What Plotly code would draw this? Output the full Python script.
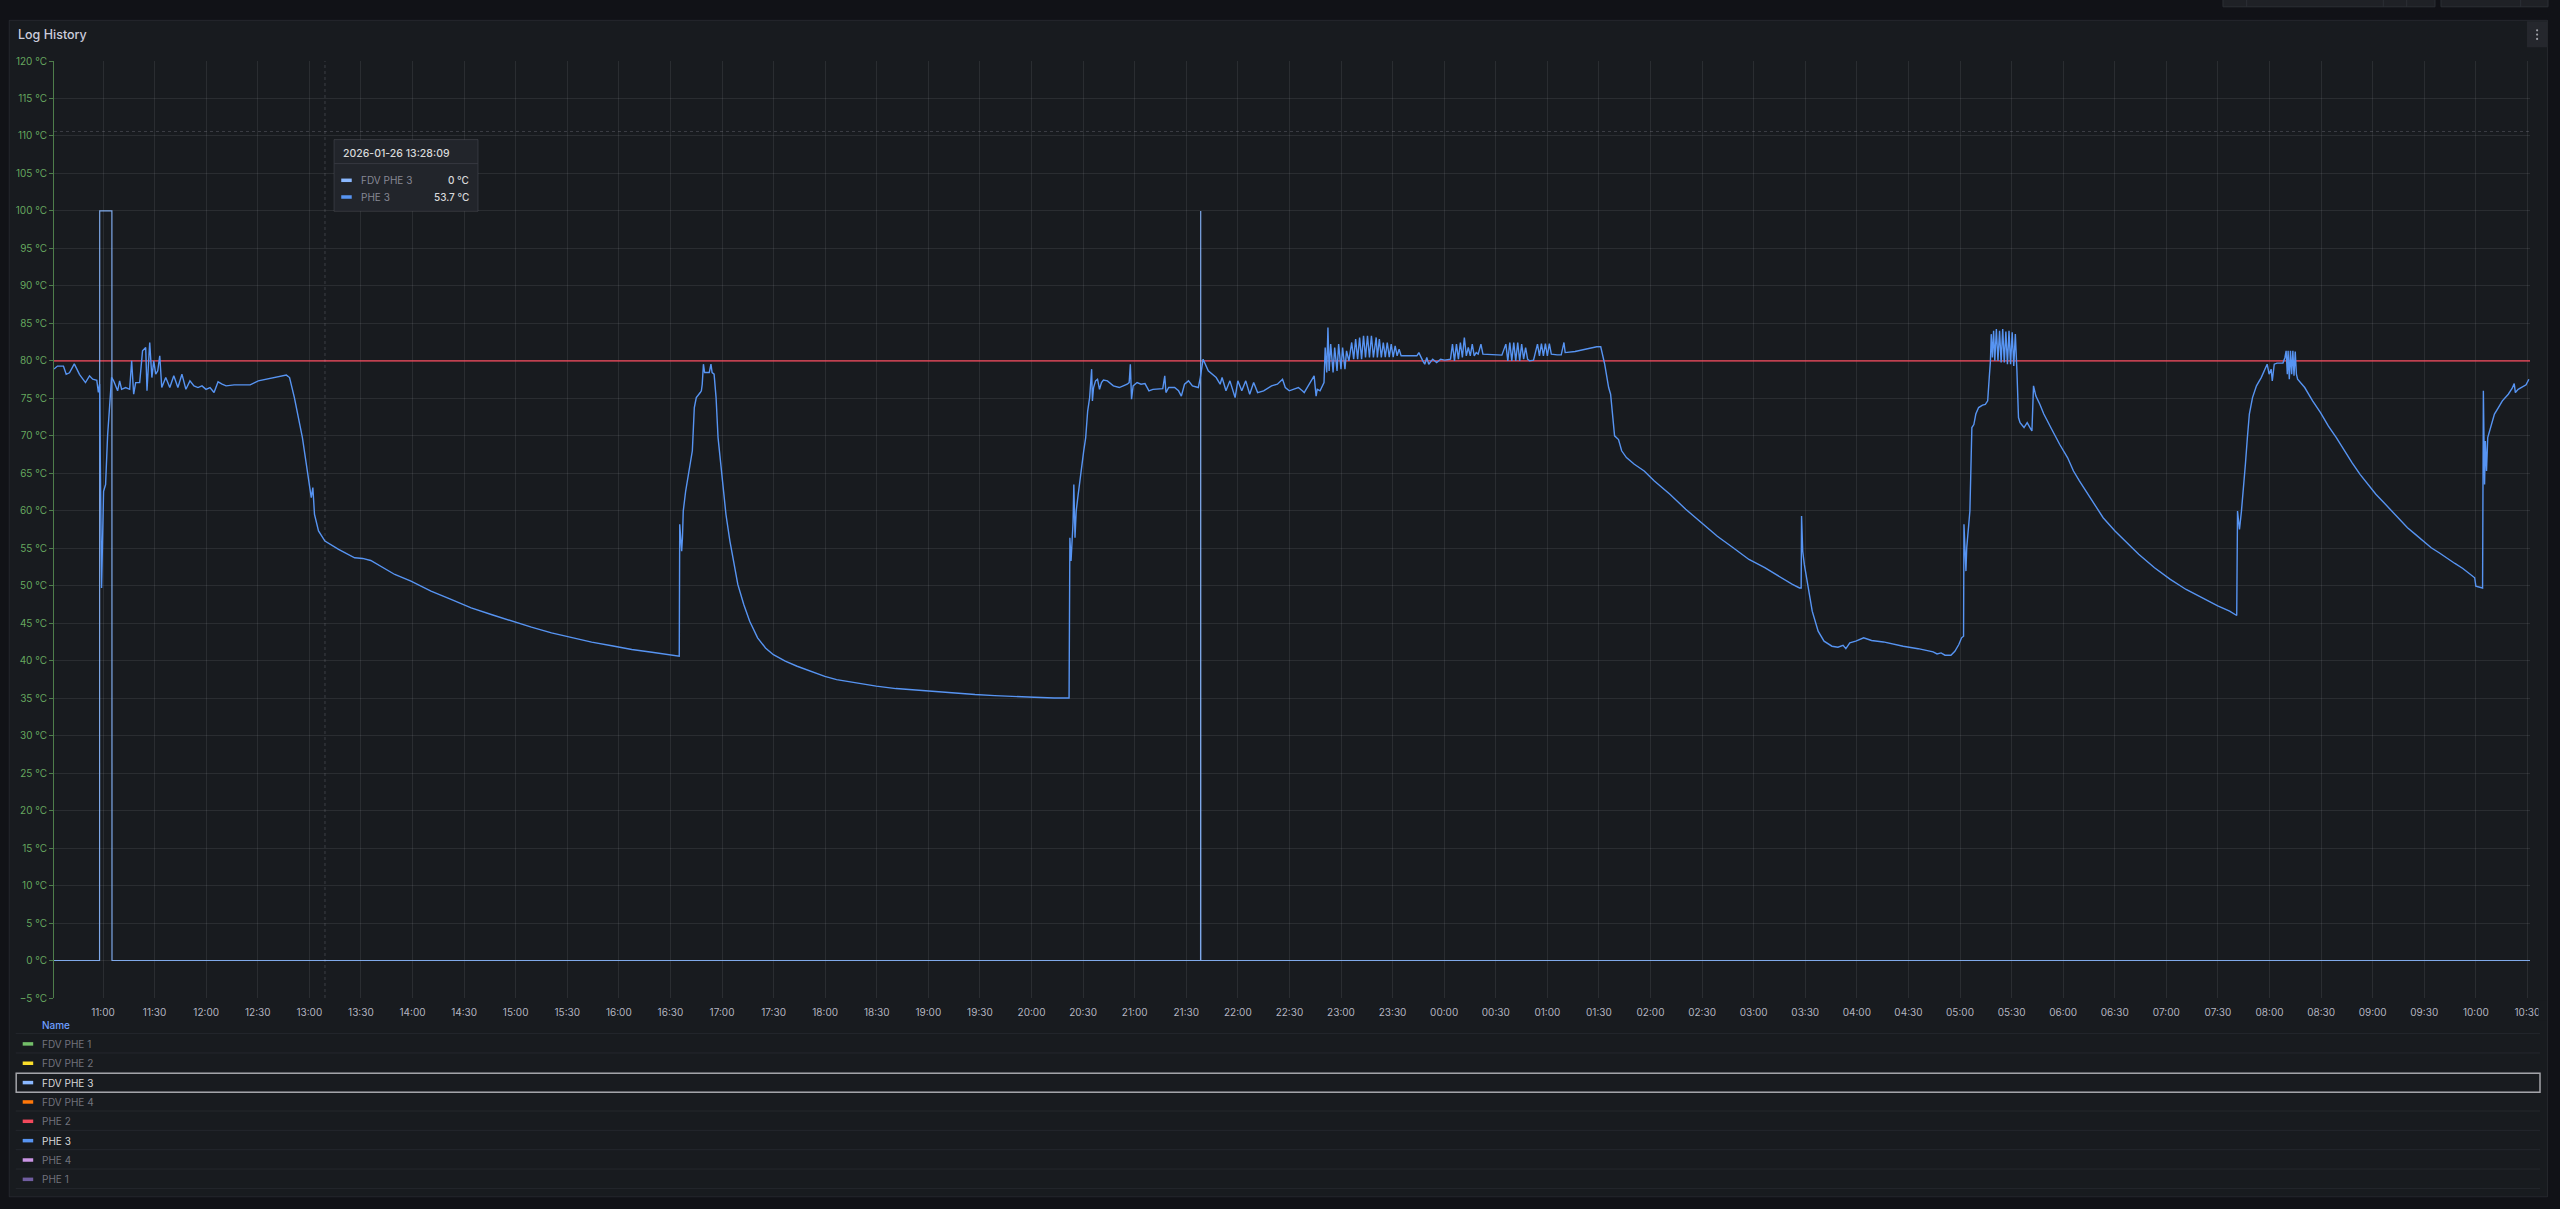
import plotly.graph_objects as go

# ---------------- DATA ----------------
DAY1 = "2026-01-26"
DAY2 = "2026-01-27"

phe3_times_d1 = [
    "10:31:30", "10:33:30", "10:37:00", "10:38:36", "10:40:30", "10:43:18", "10:46:18", "10:49:48",
    "10:52:09", "10:54:00", "10:56:24", "10:57:18", "10:58:00", "10:58:42", "10:59:10", "11:00:20",
    "11:01:30", "11:02:40", "11:03:50", "11:05:00", "11:06:10", "11:08:30", "11:09:40", "11:10:50",
    "11:13:10", "11:15:30", "11:16:40", "11:17:50", "11:19:00", "11:21:20", "11:23:00", "11:24:50",
    "11:25:35", "11:26:45", "11:27:10", "11:28:25", "11:29:30", "11:30:40", "11:31:50", "11:33:00",
    "11:34:10", "11:36:30", "11:38:50", "11:41:10", "11:43:33", "11:45:54", "11:48:13", "11:50:34",
    "11:52:54", "11:55:14", "11:57:34", "11:59:54", "12:02:14", "12:04:35", "12:06:55", "12:09:15",
    "12:11:35", "12:16:16", "12:25:36", "12:30:17", "12:39:38", "12:46:38", "12:48:30", "12:51:18",
    "12:55:58", "12:59:00", "13:01:07", "13:02:03", "13:03:00", "13:05:20", "13:09:04", "13:17:00",
    "13:24:00", "13:26:21", "13:28:09", "13:31:00", "13:35:42", "13:42:42", "13:49:42", "13:59:06",
    "14:10:45", "14:22:25", "14:34:07", "14:45:47", "14:57:28", "15:09:09", "15:20:50", "15:32:30",
    "15:44:12", "15:55:53", "16:07:33", "16:19:15", "16:35:08",
    "16:35:25", "16:36:05", "16:36:33", "16:37:00", "16:37:28", "16:38:51", "16:40:27", "16:42:45",
    "16:43:54", "16:45:03", "16:47:21", "16:48:00", "16:48:30", "16:49:12", "16:49:53", "16:51:16",
    "16:52:35", "16:53:34", "16:54:15", "16:55:24", "16:56:33", "16:57:42", "17:00:00", "17:02:18",
    "17:04:36", "17:06:54", "17:09:12", "17:12:39", "17:16:06", "17:20:42", "17:25:17", "17:29:53",
    "17:36:47", "17:43:41", "17:50:35", "17:59:47", "18:06:40", "18:18:10", "18:29:40", "18:41:10",
    "18:52:39", "19:04:09", "19:15:38", "19:27:08", "19:38:38", "19:50:08", "20:01:37", "20:13:07",
    "20:21:51", "20:22:19", "20:23:00", "20:24:09", "20:24:37", "20:25:18", "20:26:00", "20:26:55",
    "20:29:13", "20:30:22", "20:31:31", "20:32:40", "20:33:49", "20:34:58", "20:35:25", "20:36:06",
    "20:37:15", "20:38:24", "20:39:33", "20:40:42", "20:41:51", "20:44:09", "20:47:36", "20:51:03",
    "20:53:21", "20:55:39", "20:56:48", "20:57:29", "20:58:11", "20:59:06", "21:01:24", "21:03:42",
    "21:06:00", "21:08:18", "21:10:36", "21:14:03", "21:16:21", "21:17:30", "21:18:11", "21:19:47",
    "21:23:14", "21:25:32", "21:27:08", "21:29:00", "21:31:18", "21:33:36", "21:37:00", "21:38:10",
    "21:39:48", "21:42:48", "21:47:24", "21:49:42", "21:50:50", "21:53:06", "21:55:24", "21:58:24",
    "22:00:00", "22:02:18", "22:04:36", "22:06:54", "22:09:12", "22:11:30", "22:15:00", "22:19:36",
    "22:23:00", "22:26:00", "22:27:36", "22:29:54", "22:32:12", "22:35:12", "22:37:30", "22:38:36",
    "22:40:55", "22:43:13", "22:44:22", "22:45:31", "22:46:12", "22:47:49", "22:48:58", "22:50:07",
    "22:50:48", "22:51:43", "22:52:24", "22:53:06", "22:54:00", "22:55:24", "22:56:19", "22:57:42",
    "22:58:37", "23:00:00", "23:00:55", "23:02:18", "23:03:13", "23:04:36", "23:06:13", "23:07:22",
    "23:08:31", "23:09:40", "23:10:49", "23:11:58", "23:13:06", "23:14:15", "23:15:24", "23:16:33",
    "23:17:42", "23:18:51", "23:20:28", "23:21:09", "23:22:18", "23:23:27", "23:24:36", "23:25:45",
    "23:26:54", "23:28:03", "23:29:12", "23:30:21", "23:31:30", "23:32:39", "23:33:48", "23:34:57",
    "23:44:08", "23:45:17", "23:47:35", "23:48:44", "23:49:53", "23:51:02", "23:53:20", "23:55:38",
    "23:57:56",
]
phe3_vals_d1 = [
    78.9, 79.3, 79.3, 78.2, 78.4, 79.6, 78.2, 77.1,
    78.0, 77.55, 77.4, 75.8, 76.9, 60.0, 49.7, 62.6,
    63.5, 70.0, 73.3, 77.8, 77.33, 76.0, 77.33, 76.2,
    76.44, 76.2, 80.0, 75.55, 77.1, 77.1, 81.34, 81.78,
    76.0, 82.23, 82.45, 77.77, 80.0, 78.22, 78.66, 80.67,
    76.44, 77.77, 76.44, 78.0, 76.44, 78.22, 76.2, 77.33,
    76.66, 76.44, 76.66, 76.2, 76.44, 75.77, 77.2, 76.9,
    76.66, 76.8, 76.8, 77.33, 77.77, 78.1, 77.77, 75.1,
    69.76, 64.86, 61.75, 63.1, 59.5, 57.3, 55.96, 54.84,
    53.95, 53.73, 53.7, 53.64, 53.37, 52.4, 51.5, 50.6,
    49.28, 48.17, 47.05, 46.16, 45.27, 44.47, 43.7, 43.05,
    42.47, 42.0, 41.49, 41.13, 40.6,
    58.2, 55.5, 54.6, 56.4, 59.96, 62.6, 64.86, 68.0,
    73.77, 75.1, 75.77, 76.0, 76.88, 79.55, 78.44, 78.44,
    78.44, 79.55, 78.44, 78.22, 75.1, 69.76, 64.4, 59.5,
    55.96, 52.84, 50.17, 47.5, 45.27, 43.05, 41.7, 40.8,
    39.93, 39.26, 38.68, 37.9, 37.48, 37.03, 36.6, 36.28,
    36.06, 35.83, 35.6, 35.48, 35.34, 35.2, 35.12, 35.03,
    35.03, 56.4, 53.3, 58.4, 63.5, 56.4, 59.96, 61.75,
    66.2, 68.0, 69.76, 73.3, 75.1, 78.89, 74.66, 76.44,
    77.33, 77.55, 76.2, 77.1, 77.44, 77.33, 76.66, 76.44,
    76.66, 76.88, 77.1, 79.55, 74.88, 76.66, 77.1, 76.88,
    76.97, 76.0, 76.2, 76.2, 76.3, 78.0, 75.77, 76.44,
    76.44, 76.0, 75.3, 76.88, 77.33, 76.66, 76.44, 77.77,
    80.22, 78.66, 77.77, 76.88, 77.77, 76.0, 77.33, 75.1,
    77.33, 76.0, 77.33, 75.55, 77.1, 75.77, 76.0, 76.66,
    76.88, 77.55, 76.44, 76.0, 76.2, 76.44, 76.0, 75.77,
    76.66, 77.55, 78.0, 75.3, 76.2, 76.0, 76.66, 77.1,
    81.78, 78.44, 84.45, 78.66, 82.23, 78.44, 81.78, 78.66,
    82.23, 78.89, 81.78, 78.89, 81.34, 80.0, 82.45, 80.22,
    82.9, 80.22, 83.12, 80.22, 83.34, 80.45, 83.34, 80.45,
    83.34, 80.45, 83.12, 80.45, 82.9, 80.45, 82.45, 80.5,
    82.45, 80.5, 82.23, 80.5, 82.0, 80.67, 81.56, 80.67,
    80.67, 81.1, 80.0, 79.55, 80.45, 79.55, 80.22, 79.78,
    80.22,
]

phe3_times_d2 = [
    "00:00:14", "00:03:41", "00:04:50", "00:05:59", "00:07:08", "00:08:17", "00:09:26", "00:10:35",
    "00:11:44", "00:12:53", "00:14:02", "00:15:11", "00:16:20", "00:17:29", "00:18:38", "00:19:46",
    "00:21:23", "00:22:32", "00:30:07", "00:33:34", "00:35:52", "00:37:01", "00:38:10", "00:39:19",
    "00:40:28", "00:41:37", "00:42:46", "00:43:55", "00:45:04", "00:46:13", "00:47:22", "00:48:31",
    "00:49:40", "00:51:58", "00:54:16", "00:55:25", "00:56:34", "00:57:43", "00:58:52", "01:00:01",
    "01:01:10", "01:02:19", "01:05:46", "01:08:04", "01:09:40", "01:10:22", "01:16:06", "01:23:00",
    "01:28:45", "01:31:03", "01:32:12", "01:33:21", "01:34:30", "01:35:39", "01:36:48", "01:37:57",
    "01:39:06", "01:41:24", "01:42:33", "01:43:14", "01:46:00", "01:50:35", "01:56:20", "02:02:05",
    "02:11:17", "02:20:29", "02:29:40", "02:38:52", "02:48:04", "02:57:16", "03:06:27", "03:15:39",
    "03:22:33", "03:26:41", "03:27:37", "03:27:51", "03:28:32", "03:29:27", "03:31:45", "03:34:03",
    "03:37:30", "03:40:56", "03:45:32", "03:49:00", "03:52:00", "03:53:37", "03:55:55", "03:59:22",
    "04:03:58", "04:08:34", "04:15:27", "04:20:03", "04:26:57", "04:35:39", "04:39:46", "04:44:22",
    "04:46:40", "04:48:58", "04:51:16", "04:54:43", "04:57:00", "04:59:19", "05:00:55", "05:02:04",
    "05:02:18", "05:02:46", "05:03:27", "05:03:55", "05:05:04", "05:05:45", "05:06:13", "05:06:54",
    "05:08:03", "05:09:12", "05:10:49", "05:13:06", "05:14:43", "05:16:06", "05:17:01", "05:17:42",
    "05:18:10", "05:18:51", "05:19:32", "05:20:14", "05:21:09", "05:22:04", "05:23:00", "05:23:55",
    "05:24:50", "05:25:45", "05:26:40", "05:27:35", "05:28:30", "05:29:25", "05:30:21", "05:31:16",
    "05:32:11", "05:32:39", "05:33:06", "05:34:01", "05:34:56", "05:37:14", "05:39:04", "05:40:41",
    "05:41:50", "05:42:45", "05:44:08", "05:46:26", "05:48:44", "05:53:20", "05:57:56", "06:02:32",
    "06:06:00", "06:09:26", "06:14:02", "06:18:38", "06:23:14", "06:30:08", "06:37:02", "06:43:56",
    "06:53:07", "07:02:19", "07:11:30", "07:20:42", "07:29:54", "07:36:48", "07:40:56", "07:41:24",
    "07:42:32", "07:43:41", "07:44:50", "07:45:59", "07:47:08", "07:48:17", "07:50:07", "07:52:25",
    "07:55:11", "07:57:29", "07:58:38", "07:59:47", "08:00:56", "08:01:37", "08:02:46", "08:04:23",
    "08:07:50", "08:08:59", "08:09:40", "08:10:22", "08:10:49", "08:11:31", "08:12:12", "08:12:53",
    "08:13:35", "08:14:16", "08:14:58", "08:15:39", "08:16:20", "08:20:28", "08:25:04", "08:29:40",
    "08:34:16", "08:38:52", "08:43:28", "08:48:04", "08:52:40", "08:57:16", "09:01:52", "09:06:27",
    "09:11:03", "09:15:39", "09:20:15", "09:24:51", "09:29:27", "09:34:03", "09:38:39", "09:43:14",
    "09:47:50", "09:52:26", "09:57:02", "09:59:20", "10:00:00", "10:03:55", "10:04:23", "10:05:05",
    "10:05:32", "10:06:13", "10:06:55", "10:08:31", "10:10:49", "10:13:07", "10:15:25", "10:18:52",
    "10:21:10", "10:22:19", "10:23:00", "10:24:37", "10:26:55", "10:29:13", "10:30:50",
]
phe3_vals_d2 = [
    80.1, 80.22, 82.23, 80.0, 82.23, 80.22, 82.45, 80.45,
    83.12, 80.67, 81.78, 80.67, 82.23, 80.67, 81.1, 80.9,
    82.23, 80.9, 80.76, 80.76, 82.23, 80.0, 82.45, 80.0,
    82.45, 80.0, 82.45, 80.0, 82.23, 80.22, 81.78, 80.22,
    80.0, 80.1, 82.23, 80.67, 82.3, 80.67, 82.3, 80.67,
    82.3, 80.9, 80.8, 80.8, 82.45, 81.1, 81.25, 81.56,
    81.87, 81.87, 80.9, 79.55, 78.0, 76.44, 75.55, 72.43,
    70.0, 69.5, 68.42, 68.0, 67.1, 66.2, 65.3, 64.0,
    62.2, 60.2, 58.4, 56.6, 55.07, 53.5, 52.4, 51.06,
    50.17, 49.7, 49.7, 59.3, 54.6, 52.84, 49.7, 46.6,
    43.94, 42.6, 41.93, 41.8, 42.06, 41.6, 42.38, 42.6,
    43.05, 42.7, 42.5, 42.24, 41.93, 41.6, 41.35, 41.17,
    40.9, 41.04, 40.73, 40.73, 41.26, 42.15, 43.05, 43.27,
    58.2, 54.6, 51.95, 55.07, 58.2, 59.96, 64.4, 71.1,
    71.5, 72.9, 73.77, 74.1, 74.2, 74.66, 77.77, 80.0,
    83.56, 80.45, 84.0, 80.0, 84.23, 80.0, 84.0, 79.78,
    84.23, 79.78, 83.9, 79.55, 84.0, 79.55, 83.8, 79.33,
    83.56, 79.1, 78.66, 72.43, 71.76, 71.1, 71.76, 71.1,
    70.65, 76.66, 75.3, 74.2, 72.9, 70.87, 68.87, 67.1,
    65.3, 64.0, 62.4, 60.85, 59.07, 57.3, 55.73, 54.2,
    52.4, 50.84, 49.5, 48.4, 47.3, 46.6, 46.03, 59.96,
    57.5, 59.96, 62.6, 66.2, 69.76, 72.9, 75.1, 76.66,
    77.77, 78.89, 79.55, 78.22, 78.89, 77.33, 79.55, 79.7,
    79.7, 80.45, 81.34, 78.22, 81.34, 77.55, 81.34, 78.22,
    81.34, 78.0, 81.25, 78.22, 77.55, 76.44, 74.66, 73.1,
    71.3, 69.76, 68.0, 66.4, 64.86, 63.5, 62.2, 61.1,
    59.96, 58.85, 57.74, 56.85, 55.96, 55.07, 54.4, 53.64,
    52.97, 52.3, 51.5, 51.06, 49.95, 49.7, 76.0, 63.5,
    69.3, 65.3, 69.76, 71.1, 72.9, 73.77, 74.66, 75.55,
    76.35, 76.97, 75.77, 76.2, 76.53, 76.8, 77.55,
]

fdv3_times_d1 = ["10:31:30", "10:58:00", "10:58:05", "11:05:10", "11:05:14",
                 "21:38:20", "21:38:24", "21:38:28"]
fdv3_vals_d1 = [0, 0, 100, 100, 0, 0, 100, 0]
fdv3_times_d2 = ["10:31:30"]
fdv3_vals_d2 = [0]

threshold_value = 80
range_start = "2026-01-26 10:31:30"
range_end = "2026-01-27 10:31:30"
first_tick = "2026-01-26 11:00:00"

legend_names = ["FDV PHE 1", "FDV PHE 2", "FDV PHE 3", "FDV PHE 4",
                "PHE 2", "PHE 3", "PHE 4", "PHE 1"]
legend_colors = ["#73BF69", "#FADE2A", "#8AB8FF", "#FF780A",
                 "#F2495C", "#5794F2", "#CA95E5", "#705DA0"]
legend_active = [False, False, True, False, False, True, False, False]
legend_highlight = "FDV PHE 3"

tooltip_title = "2026-01-26 13:28:09"
tooltip_names = ["FDV PHE 3", "PHE 3"]
tooltip_values = ["0 °C", "53.7 °C"]
tooltip_colors = ["#8AB8FF", "#5794F2"]
cursor_time = "2026-01-26 13:09:06"
cursor_value = 110.6

# ---------------- LAYOUT GEOMETRY ----------------
W, H = 2560, 1209
PL, PR, PT, PB = 54.3, 2530.0, 60.7, 997.7
FONT = "Inter"
PANEL_BG = "#181b1f"
PAGE_BG = "#111217"


def px(x):
    return (x - PL) / (PR - PL)


def py(y):
    return (PB - y) / (PB - PT)


phe3_x = [f"{DAY1} {t}" for t in phe3_times_d1] + [f"{DAY2} {t}" for t in phe3_times_d2]
phe3_y = phe3_vals_d1 + phe3_vals_d2
fdv3_x = [f"{DAY1} {t}" for t in fdv3_times_d1] + [f"{DAY2} {t}" for t in fdv3_times_d2]
fdv3_y = fdv3_vals_d1 + fdv3_vals_d2

fig = go.Figure()
fig.add_trace(go.Scatter(x=[range_start, range_end], y=[threshold_value, threshold_value],
                         mode="lines", line=dict(color="rgba(242,73,92,0.75)", width=1.6),
                         hoverinfo="skip", showlegend=False))
fig.add_trace(go.Scatter(x=fdv3_x, y=fdv3_y, mode="lines", name="FDV PHE 3",
                         line=dict(color="#8AB8FF", width=1.2), opacity=0.9, showlegend=False))
fig.add_trace(go.Scatter(x=phe3_x, y=phe3_y, mode="lines", name="PHE 3",
                         line=dict(color="#5794F2", width=1.4), showlegend=False))

shapes = []
annotations = []


def rect(x0, y0, x1, y1, fill, line="rgba(0,0,0,0)", lw=1, layer="below"):
    shapes.append(dict(type="rect", xref="paper", yref="paper",
                       x0=px(x0), x1=px(x1), y0=py(y1), y1=py(y0),
                       fillcolor=fill, line=dict(color=line, width=lw), layer=layer))


def hline(x0, x1, y, color, lw=1, dash="solid", layer="below"):
    shapes.append(dict(type="line", xref="paper", yref="paper",
                       x0=px(x0), x1=px(x1), y0=py(y), y1=py(y),
                       line=dict(color=color, width=lw, dash=dash), layer=layer))


def text(x, y, s, size=10, color="#ccccdc", anchor="left", weight=400):
    annotations.append(dict(xref="paper", yref="paper", x=px(x), y=py(y), text=s,
                            showarrow=False, xanchor=anchor, yanchor="middle",
                            font=dict(family=FONT, size=size, color=color, weight=weight)))


# page-top header boxes
rect(2223, -6, 2435, 6.5, "#1f2126", "#2c2f35")
rect(2441, -6, 2548, 6.5, "#1f2126", "#2c2f35")
for xd in (2246.7, 2383.3, 2406.7, 2520.7):
    shapes.append(dict(type="line", xref="paper", yref="paper", x0=px(xd), x1=px(xd),
                       y0=py(6.5), y1=py(-6), line=dict(color="#2c2f35", width=1), layer="below"))

# panel
rect(9.5, 20, 2547.5, 1196.5, PANEL_BG, "rgba(204,204,220,0.09)")
# title
text(16, 34, "Log History", size=12.5, color="#ccccdc", weight=500)
# menu button
rect(2527, 21, 2547, 47, "#25272d")
for yd in (30.0, 34.3, 38.6):
    shapes.append(dict(type="circle", xref="paper", yref="paper",
                       x0=px(2536), x1=px(2538.2), y0=py(yd + 1.1), y1=py(yd - 1.1),
                       fillcolor="#9fa1a8", line=dict(width=0), layer="above"))

# crosshair
shapes.append(dict(type="line", xref="x", yref="paper", x0=cursor_time, x1=cursor_time,
                   y0=0, y1=1, line=dict(color="rgba(204,204,220,0.2)", width=1, dash="dot"),
                   layer="above"))
shapes.append(dict(type="line", xref="paper", yref="y", x0=0, x1=1, y0=cursor_value,
                   y1=cursor_value, line=dict(color="rgba(204,204,220,0.2)", width=1, dash="dot"),
                   layer="above"))

# tooltip
rect(334.3, 139.3, 478.3, 211, "#22252b", "rgba(204,204,220,0.14)", layer="above")
hline(334.8, 477.8, 163.3, "rgba(204,204,220,0.12)", layer="above")
text(341.7, 152.7, tooltip_title, size=10.5, color="#d8d9da", weight=500)
for i, (nm, val, col) in enumerate(zip(tooltip_names, tooltip_values, tooltip_colors)):
    yy = 180 + i * 16.7
    shapes.append(dict(type="line", xref="paper", yref="paper", x0=px(341.5), x1=px(352),
                       y0=py(yy), y1=py(yy), line=dict(color=col, width=3.5), layer="above"))
    text(359.3, yy, nm, size=10, color="rgba(204,204,220,0.6)")
    text(471.5, yy, val, size=10, color="#d8d9da", anchor="right", weight=500)

# cover for clipped last tick label
rect(2538.5, 1000, 2547, 1020, PANEL_BG, layer="above")

# legend table
text(40.7, 1024.3, "Name", size=10, color="#6E9FFF", weight=500)
row_h = 19.35
for i in range(9):
    hline(16, 2540, 1033.3 + i * row_h, "rgba(204,204,220,0.07)")
for i, (nm, col, act) in enumerate(zip(legend_names, legend_colors, legend_active)):
    yc = 1043.6 + i * row_h
    shapes.append(dict(type="line", xref="paper", yref="paper", x0=px(23), x1=px(33.5),
                       y0=py(yc), y1=py(yc), line=dict(color=col, width=3.5), layer="above"))
    text(40.7, yc, nm, size=10, color="#d8d9da" if act else "rgba(204,204,220,0.5)")
    if nm == legend_highlight:
        rect(16.5, yc - 9.3, 2540, yc + 9.6, "rgba(0,0,0,0)", "#a3a4a9", lw=1.5, layer="above")

fig.update_layout(
    width=W, height=H,
    margin=dict(l=PL, r=W - PR, t=PT, b=H - PB, pad=0, autoexpand=False),
    paper_bgcolor=PAGE_BG, plot_bgcolor="rgba(0,0,0,0)",
    font=dict(family=FONT, size=10, color="#ccccdc"),
    showlegend=False, hovermode=False,
    shapes=shapes, annotations=annotations,
    xaxis=dict(type="date", range=[range_start, range_end], tick0=first_tick, dtick=1800000,
               tickformat="%H:%M", showgrid=True, gridcolor="rgba(204,204,220,0.1)", gridwidth=1,
               zeroline=False, showline=False, ticks="outside", ticklen=5,
               tickcolor="rgba(0,0,0,0)", tickfont=dict(family=FONT, size=10,
                                                       color="rgba(204,204,220,0.88)")),
    yaxis=dict(range=[-5, 120], tick0=0, dtick=5, ticksuffix=" °C", showgrid=True,
               gridcolor="rgba(204,204,220,0.1)", gridwidth=1, zeroline=False,
               showline=True, linecolor="rgba(115,191,105,0.6)", linewidth=1,
               ticks="outside", ticklen=4, tickcolor="rgba(115,191,105,0.6)",
               tickfont=dict(family=FONT, size=10, color="rgba(115,191,105,0.88)")),
)

fig.write_html("out.html", config={"displayModeBar": False, "staticPlot": True},
               post_script="document.body.style.margin='0';document.body.style.overflow='hidden';"
                           "document.body.style.background='#111217';")
